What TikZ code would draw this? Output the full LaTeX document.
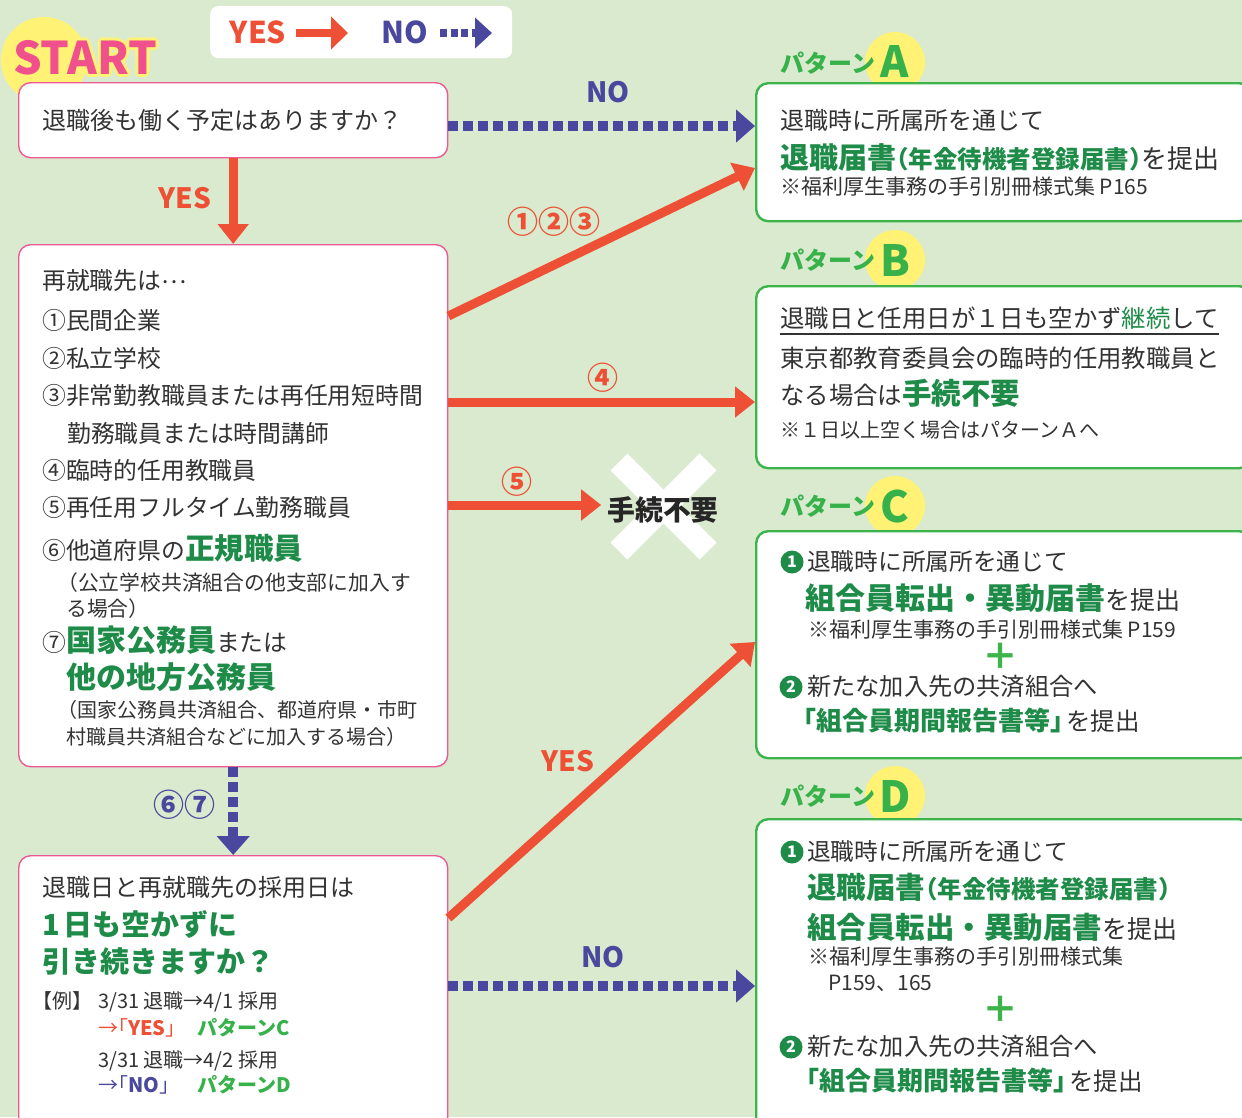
\documentclass[tikz,border=0pt]{standalone}
\usepackage{fontspec}
\setmainfont{Noto Sans CJK JP}
\usetikzlibrary{arrows.meta,calc}
\definecolor{bggreen}{RGB}{217,234,206}
\definecolor{tred}{RGB}{238,80,54}
\definecolor{tblue}{RGB}{74,72,158}
\definecolor{pinkb}{RGB}{236,90,150}
\definecolor{gborder}{RGB}{60,180,75}
\definecolor{gdark}{RGB}{30,140,72}
\definecolor{glight}{RGB}{55,178,75}
\definecolor{yel}{RGB}{255,242,117}
\definecolor{spink}{RGB}{240,80,140}
\definecolor{tdark}{RGB}{51,51,51}
\newcommand\fsz[1]{\fontsize{#1pt}{#1pt}\selectfont}
\newcommand\grb[1]{{\bfseries\color{gdark}#1}}
\newcommand\ocopy[3]{\makebox[0pt][l]{\hspace*{#1}\raisebox{#2}{\color{yel}#3}}}
\newcommand\outlined[1]{\ocopy{-3pt}{0pt}{#1}\ocopy{3pt}{0pt}{#1}\ocopy{0pt}{3pt}{#1}\ocopy{0pt}{-3pt}{#1}\ocopy{-2.1pt}{2.1pt}{#1}\ocopy{2.1pt}{2.1pt}{#1}\ocopy{-2.1pt}{-2.1pt}{#1}\ocopy{2.1pt}{-2.1pt}{#1}#1}
\begin{document}
\begin{tikzpicture}[x=1pt,y=-1pt,
 rbox/.style={fill=white, rounded corners=12pt, inner sep=0pt, anchor=north west},
 qbox/.style={rbox, draw=pinkb, line width=1.4pt},
 pbox/.style={rbox, draw=gborder, line width=2.4pt},
 txt/.style={anchor=base west, inner sep=0pt, text=tdark},
 yesarrow/.style={draw=tred, line width=9pt, -{Triangle[length=20pt,width=30pt]}},
 noarrow/.style={draw=tblue, line width=10pt, dash pattern=on 10pt off 5pt, -{Triangle[length=19pt,width=32pt]}},
 lbl/.style={inner sep=0pt, font=\bfseries\fsz{28}},
 ylabel/.style={lbl, text=tred},
 nlabel/.style={lbl, text=tblue},
 ycirc/.style={circle, fill=yel, minimum size=60pt, inner sep=0pt},
 plabel/.style={txt, text=glight, font=\bfseries\fsz{24}},
 pletter/.style={inner sep=0pt, text=glight, font=\bfseries\fsz{43}},
 numc/.style={circle, fill=gdark, text=white, minimum size=23pt, inner sep=0pt, font=\bfseries\fsz{16}},
 plussign/.style={inner sep=0pt, text=gborder, font=\bfseries\fsz{36}},
]
\useasboundingbox (0,0) rectangle (1242,1117);
\clip (0,0) rectangle (1242,1117);
\fill[bggreen] (0,0) rectangle (1242,1117);

% ---------- legend ----------
\node[rbox, rounded corners=8pt, minimum width=302pt, minimum height=52pt] (legend) at (210,6) {};
\node[ylabel, font=\bfseries\fsz{30}] (lgyes) at (258,32) {YES};
\coordinate (lgya) at (296,33); \coordinate (lgyb) at (348,33);
\draw[draw=tred, line width=8pt, -{Triangle[length=17pt,width=32pt]}] (lgya) -- (lgyb);
\node[nlabel, font=\bfseries\fsz{30}] (lgno) at (405,32) {NO};
\coordinate (lgna) at (440,33); \coordinate (lgnb) at (492,33);
\draw[draw=tblue, line width=8pt, dash pattern=on 7pt off 3.5pt, -{Triangle[length=17pt,width=30pt]}] (lgna) -- (lgnb);

% ---------- START ----------
\node[circle, fill=yel, minimum size=86pt, inner sep=0pt] (startbg) at (44,60) {};
\node[inner sep=0pt, text=spink, font=\bfseries\fsz{45}] (start) at (85,58) {\outlined{START}};

% ---------- left question boxes ----------
\node[qbox, minimum width=429pt, minimum height=75pt] (q1) at (18,82) {};
\node[txt, font=\fsz{24}] (q1t) at (42,129) {退職後も働く予定はありますか？};

\node[qbox, minimum width=429pt, minimum height=522pt] (q2) at (18,244) {};
\begin{scope}[every node/.append style={txt, font=\fsz{23.8}}]
\node (q2a) at (42,289) {再就職先は\raisebox{6pt}{…}};
\node (q2b) at (42,329) {①民間企業};
\node (q2c) at (42,367) {②私立学校};
\node (q2d) at (42,404) {③非常勤教職員または再任用短時間};
\node (q2e) at (67,442) {勤務職員または時間講師};
\node (q2f) at (42,479) {④臨時的任用教職員};
\node (q2g) at (42,516) {⑤再任用フルタイム勤務職員};
\node (q2h) at (42,559) {⑥他道府県の{\fsz{29.5}\grb{正規職員}}};
\node[font=\fsz{20.8}] (q2i) at (66,590) {\kern-9pt（公立学校共済組合の他支部に加入す};
\node[font=\fsz{20.8}] (q2j) at (66,616) {る場合）};
\node (q2k) at (42,651) {⑦{\fsz{30}\grb{国家公務員}}または};
\node[font=\bfseries\fsz{30}, text=gdark] (q2l) at (66,688) {他の地方公務員};
\node[font=\fsz{20}] (q2m) at (66,717) {\kern-9pt（国家公務員共済組合、都道府県・市町};
\node[font=\fsz{20}] (q2n) at (66,744) {村職員共済組合などに加入する場合）};
\end{scope}

\node[qbox, minimum width=429pt, minimum height=290pt] (q3) at (18,855) {};
\node[txt, font=\fsz{24}] (q3a) at (42,896) {退職日と再就職先の採用日は};
\node[txt, font=\bfseries\fsz{29}, text=gdark] (q3b) at (42,935) {1\kern4pt 日も空かずに};
\node[txt, font=\bfseries\fsz{29}, text=gdark] (q3c) at (42,972) {引き続きますか？};
\node[txt, font=\fsz{20}] (q3d) at (42,1008) {\kern-10pt【例】\kern-10pt};
\node[txt, font=\fsz{20}] (q3e) at (98,1008) {3/31 退職→4/1 採用};
\node[txt, font=\fsz{20}, text=tred] (q3f) at (98,1035) {→\kern-10pt「\textbf{YES}」};
\node[txt, font=\bfseries\fsz{20}, text=glight] (q3g) at (197,1035) {パターンC};
\node[txt, font=\fsz{20}] (q3h) at (98,1067) {3/31 退職→4/2 採用};
\node[txt, font=\fsz{20}, text=tblue] (q3i) at (98,1092) {→\kern-10pt「\textbf{NO}」};
\node[txt, font=\bfseries\fsz{20}, text=glight] (q3j) at (197,1092) {パターンD};

% ---------- pattern boxes ----------
% A
\node[ycirc] (ycA) at (895,62) {};
\node[pbox, minimum width=495pt, minimum height=138pt] (pA) at (755,82) {};
\node[plabel] (plA) at (780,72.6) {パターン};
\node[pletter] (lA) at (895,61) {A};
\node[txt, font=\fsz{24}] (pA1) at (780,129) {退職時に所属所を通じて};
\node[txt, font=\fsz{26}] (pA2) at (780,168.5) {{\fsz{29}\grb{退職届書}}{\fsz{24.5}\grb{\kern-12pt（年金待機者登録届書）\kern-12pt}}を提出};
\node[txt, font=\fsz{21}] (pA3) at (780,194.5) {※福利厚生事務の手引別冊様式集 P165};

% B
\node[ycirc] (ycB) at (895,260) {};
\node[pbox, minimum width=495pt, minimum height=182pt] (pB) at (755,285) {};
\node[plabel] (plB) at (780,269.6) {パターン};
\node[pletter] (lB) at (895,260) {B};
\node[txt, font=\fsz{24.4}] (pB1) at (780,327) {退職日と任用日が１日も空かず{\color{gdark}継続}して};
\draw[tdark, line width=1.3pt] ($(pB1.base west)+(0,7)$) -- ($(pB1.base east)+(0,7)$);
\node[txt, font=\fsz{24.4}] (pB2) at (780,367) {東京都教育委員会の臨時的任用教職員と};
\node[txt, font=\fsz{24.4}] (pB3) at (780,404) {なる場合は{\fsz{29.5}\grb{手続不要}}};
\node[txt, font=\fsz{20}] (pB4) at (780,437) {※１日以上空く場合はパターンＡへ};

% C
\node[ycirc] (ycC) at (895,506) {};
\node[pbox, minimum width=495pt, minimum height=227pt] (pC) at (755,530) {};
\node[plabel] (plC) at (780,515.6) {パターン};
\node[pletter] (lC) at (895,506) {C};
\node[numc] (nC1) at (792,562) {1};
\node[txt, font=\fsz{23.7}] (pC1) at (807,570.5) {退職時に所属所を通じて};
\node[txt, font=\fsz{25}] (pC2) at (805,609) {{\fsz{30}\grb{組合員転出・異動届書}}を提出};
\node[txt, font=\fsz{21}] (pC3) at (808,637.5) {※福利厚生事務の手引別冊様式集 P159};
\node[plussign] (plusC) at (1000,656) {＋};
\node[numc] (nC2) at (791,687) {2};
\node[txt, font=\fsz{24.2}] (pC4) at (807,695.5) {新たな加入先の共済組合へ};
\node[txt, font=\fsz{24.5}] (pC5) at (803,730) {{\fsz{26}\grb{\kern-13pt「組合員期間報告書等」\kern-13pt}}\kern3pt を提出};

% D
\node[ycirc] (ycD) at (895,796) {};
\node[pbox, minimum width=495pt, minimum height=330pt] (pD) at (755,818) {};
\node[plabel] (plD) at (780,805.6) {パターン};
\node[pletter] (lD) at (895,796) {D};
\node[numc] (nD1) at (792,852) {1};
\node[txt, font=\fsz{23.7}] (pD1) at (807,860.5) {退職時に所属所を通じて};
\node[txt, font=\fsz{29.5}] (pD2) at (807,898.5) {\grb{退職届書}{\fsz{24.5}\grb{\kern-12pt（年金待機者登録届書）\kern-12pt}}};
\node[txt, font=\fsz{25}] (pD3) at (807,938) {{\fsz{29.5}\grb{組合員転出・異動届書}}を提出};
\node[txt, font=\fsz{21}] (pD4) at (808,964.5) {※福利厚生事務の手引別冊様式集};
\node[txt, font=\fsz{21}] (pD5) at (828,990.5) {P159、165};
\node[plussign] (plusD) at (1000,1009) {＋};
\node[numc] (nD2) at (791,1047) {2};
\node[txt, font=\fsz{24.2}] (pD6) at (807,1055.5) {新たな加入先の共済組合へ};
\node[txt, font=\fsz{24.5}] (pD7) at (806,1090) {{\fsz{26}\grb{\kern-13pt「組合員期間報告書等」\kern-13pt}}\kern3pt を提出};

% ---------- no procedure ----------
\draw[white, line width=24pt] (619,462) -- (708,551);
\draw[white, line width=24pt] (619,551) -- (708,462);
\node[inner sep=0pt, text=black!85, font=\bfseries\fsz{27.8}] (none) at (663,510) {手続不要};

% ---------- connectors ----------
\draw[noarrow] ($(q1.north east)+(0,44)$) -- ($(pA.north west)+(0,44)$);
\node[nlabel] (lno1) at (608,92) {NO};
\draw[yesarrow] (q1.south) -- (q2.north);
\node[ylabel] (lyes1) at (185,198) {YES};
\draw[yesarrow] ($(q2.north east)+(0,72)$) -- ($(pA.north west)+(0,86)$);
\node[ylabel, font=\bfseries\fsz{31}] (l123) at (554,222) {①②③};
\draw[yesarrow] ($(q2.north east)+(0,158)$) -- ($(pB.north west)+(0,117)$);
\node[ylabel, font=\bfseries\fsz{31}] (l4) at (603,378) {④};
\draw[yesarrow, shorten >=6pt] ($(q2.north east)+(0,261)$) -- (none.west |- {$(q2.north east)+(0,261)$});
\node[ylabel, font=\bfseries\fsz{31}] (l5) at (517,482) {⑤};
\draw[noarrow] (q2.south) -- (q3.north);
\node[nlabel, font=\bfseries\fsz{31}] (l67) at (184,805) {⑥⑦};
\draw[yesarrow] ($(q3.north east)+(0,63)$) -- ($(pC.north west)+(0,112)$);
\node[ylabel] (lyes2) at (568,761) {YES};
\draw[noarrow] ($(q3.north east)+(0,131)$) -- ($(pD.north west)+(0,168)$);
\node[nlabel] (lno2) at (603,957) {NO};
\end{tikzpicture}
\end{document}
